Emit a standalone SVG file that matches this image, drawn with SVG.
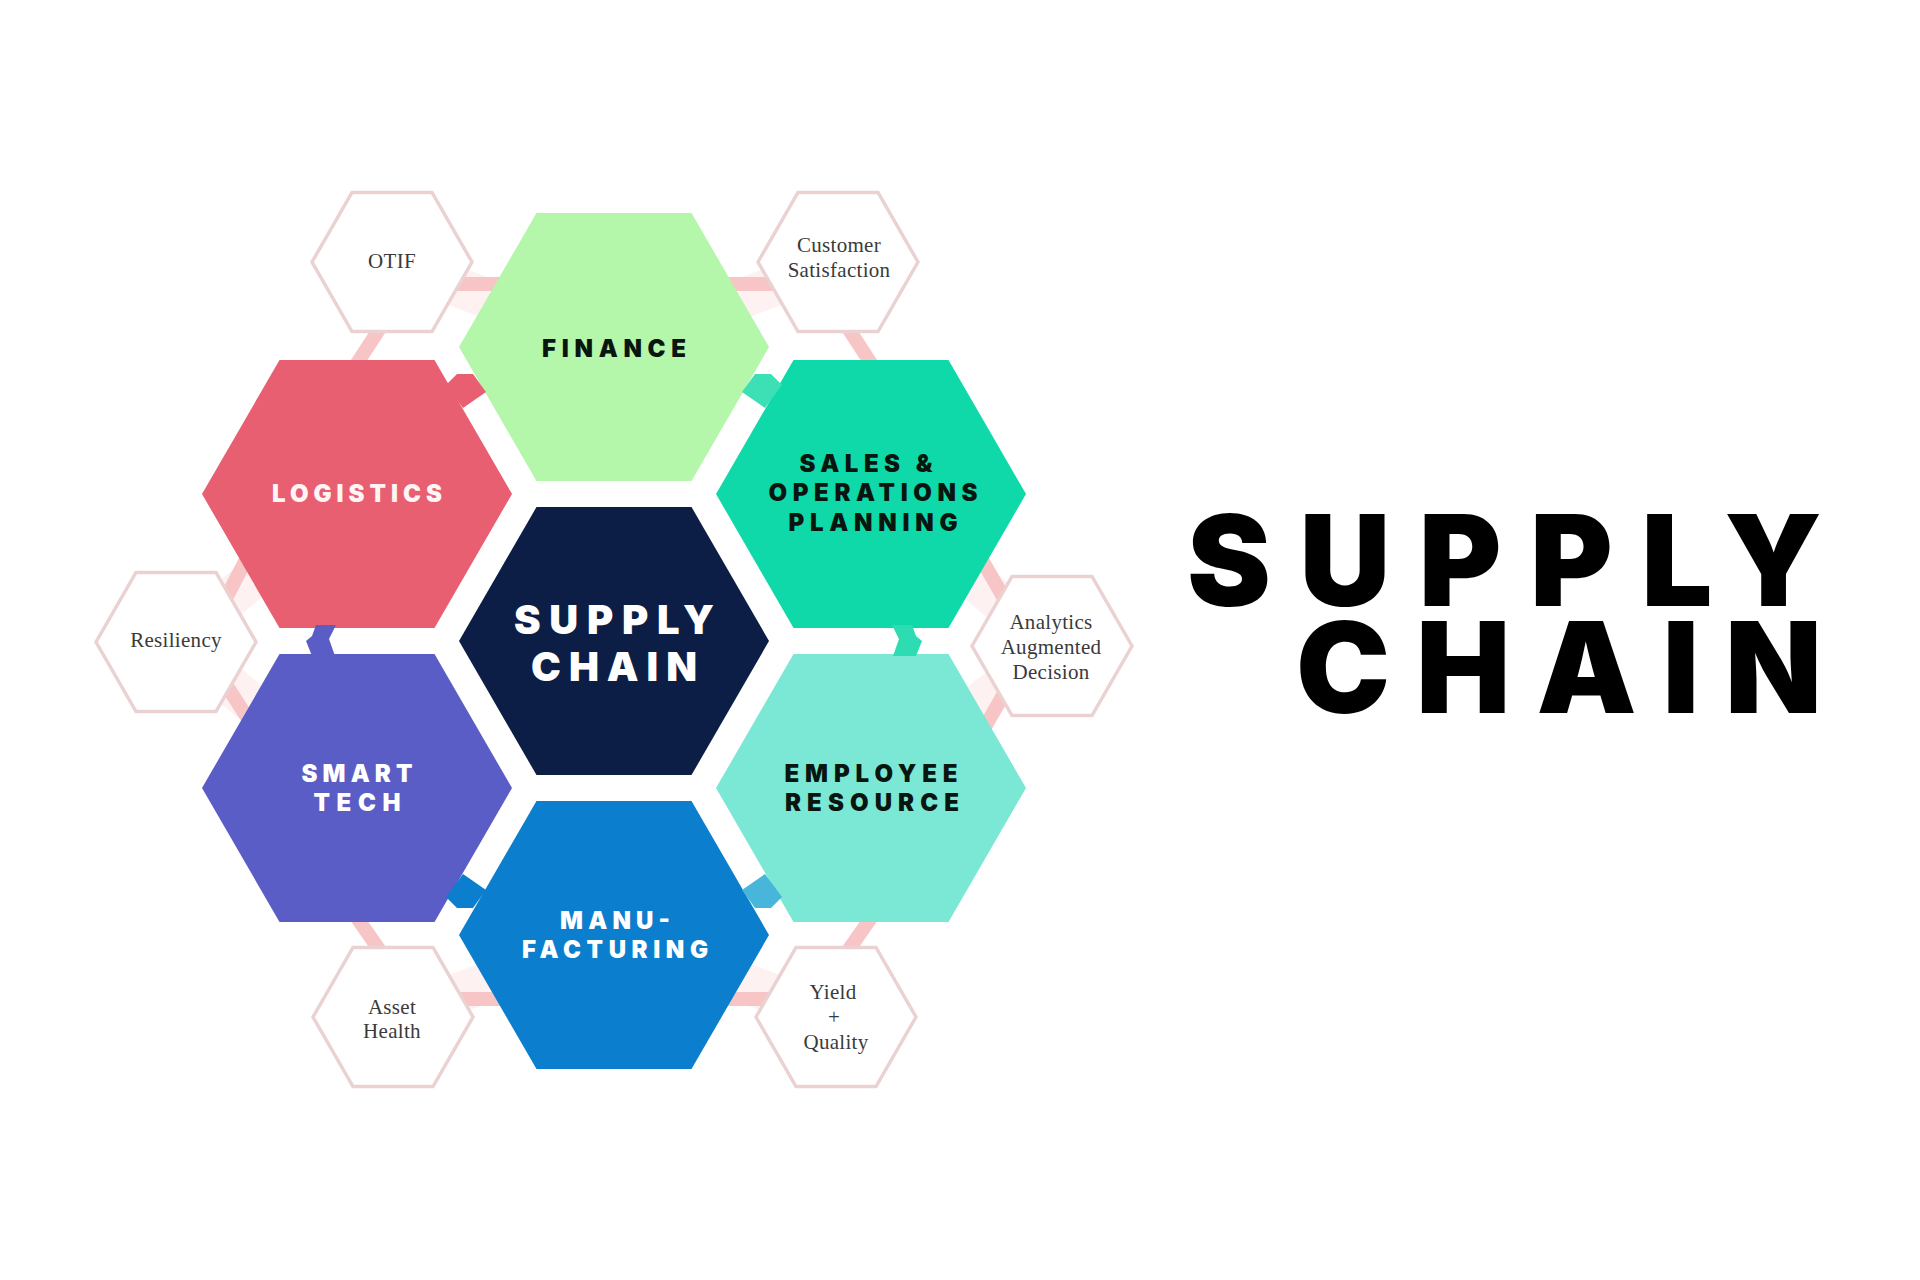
<svg xmlns="http://www.w3.org/2000/svg" xmlns:xlink="http://www.w3.org/1999/xlink" width="1920" height="1280" viewBox="0 0 1920 1280">
<defs>
<path id="bighex" d="M-155,0 L-77.5,-134 L77.5,-134 L155,0 L77.5,134 L-77.5,134 Z"/>
<path id="smallhex" d="M-80,0 L-40,-69.5 L40,-69.5 L80,0 L40,69.5 L-40,69.5 Z"/>
</defs>
<style>
.bar{stroke:#f7c5c5;stroke-width:14;fill:none}
.faint{stroke:#fdf1f1;stroke-width:40;fill:none}
.small{fill:#ffffff;stroke:#ebd2d2;stroke-width:3.5}
.lbl{font-family:Inter,Lato,"Open Sans",sans-serif;font-weight:900;font-size:24px;text-anchor:middle}
.big{font-family:Inter,Lato,"Open Sans",sans-serif;font-weight:900;font-size:40px;text-anchor:middle;fill:#ffffff}
.kpi{font-family:"Liberation Serif","DejaVu Serif",serif;font-size:21px;text-anchor:middle;fill:#3a3a3a;letter-spacing:0.3px}
.title{font-family:Inter,Lato,"Open Sans",sans-serif;font-weight:900;font-size:126px;fill:#000000}
.dark{fill:#08160f}
.light{fill:#ffffff}
</style>
<rect width="1920" height="1280" fill="#ffffff"/>

<g id="connectors">
<line class="faint" x1="392" y1="262" x2="614" y2="347"/>
<line class="faint" x1="838" y1="262" x2="614" y2="347"/>
<line class="faint" x1="176" y1="642" x2="357" y2="494"/>
<line class="faint" x1="176" y1="642" x2="357" y2="788"/>
<line class="faint" x1="1052" y1="646" x2="871" y2="494"/>
<line class="faint" x1="1052" y1="646" x2="871" y2="788"/>
<line class="faint" x1="393" y1="1017" x2="614" y2="935"/>
<line class="faint" x1="836" y1="1017" x2="614" y2="935"/>
<line class="bar" x1="455" y1="284" x2="502" y2="284"/>
<line class="bar" x1="382" y1="325" x2="354" y2="368"/>
<line class="bar" x1="726" y1="284" x2="773" y2="284"/>
<line class="bar" x1="846" y1="325" x2="874" y2="368"/>
<line class="bar" x1="225" y1="600" x2="250" y2="552"/>
<line class="bar" x1="225" y1="683" x2="252" y2="725"/>
<line class="bar" x1="982" y1="560" x2="1005" y2="600"/>
<line class="bar" x1="1005" y1="692" x2="982" y2="732"/>
<line class="bar" x1="355" y1="915" x2="383" y2="955"/>
<line class="bar" x1="455" y1="999" x2="502" y2="999"/>
<line class="bar" x1="873" y1="915" x2="845" y2="955"/>
<line class="bar" x1="726" y1="999" x2="773" y2="999"/>
</g>

<g id="otif"><use href="#smallhex" class="small" x="392" y="262"/><text class="kpi" x="392" y="268">OTIF</text></g>
<g id="customer-satisfaction"><use href="#smallhex" class="small" x="838" y="262"/><text class="kpi" x="839" y="252">Customer</text><text class="kpi" x="839" y="277">Satisfaction</text></g>
<g id="resiliency"><use href="#smallhex" class="small" x="176" y="642"/><text class="kpi" x="176" y="647">Resiliency</text></g>
<g id="analytics"><use href="#smallhex" class="small" x="1052" y="646"/><text class="kpi" x="1051" y="629">Analytics</text><text class="kpi" x="1051" y="654">Augmented</text><text class="kpi" x="1051" y="679">Decision</text></g>
<g id="asset-health"><use href="#smallhex" class="small" x="393" y="1017"/><text class="kpi" x="392" y="1014">Asset</text><text class="kpi" x="392" y="1038">Health</text></g>
<g id="yield-quality"><use href="#smallhex" class="small" x="836" y="1017"/><text class="kpi" x="833" y="999">Yield</text><text class="kpi" x="834" y="1024" font-size="14">+</text><text class="kpi" x="836" y="1049">Quality</text></g>

<g id="finance"><use href="#bighex" x="614" y="347" fill="#b4f6aa"/><text class="lbl dark" x="614" y="357" textLength="144" lengthAdjust="spacing">FINANCE</text></g>
<g id="logistics"><use href="#bighex" x="357" y="494" fill="#e95f72"/><polygon points="446,385 457,374 473,374 486,392 463,408" fill="#e95f72"/><text class="lbl" fill="#fff5f5" x="357" y="502" textLength="170" lengthAdjust="spacing">LOGISTICS</text></g>
<g id="sales-operations-planning"><use href="#bighex" x="871" y="494" fill="#0fd9a8"/><polygon points="782,385 771,374 755,374 742,392 765,408" fill="#3ddfb5"/><text class="lbl dark" x="866" y="472" textLength="133" lengthAdjust="spacing">SALES &amp;</text><text class="lbl dark" x="873" y="501" textLength="209" lengthAdjust="spacing">OPERATIONS</text><text class="lbl dark" x="873" y="531" textLength="169" lengthAdjust="spacing">PLANNING</text></g>
<g id="smart-tech"><use href="#bighex" x="357" y="788" fill="#5b5dc6"/><polygon points="316,625 336,625 329,639 335,656 312,656 306,641 312,636" fill="#5b5dc6"/><text class="lbl light" x="357" y="782" textLength="111" lengthAdjust="spacing">SMART</text><text class="lbl light" x="357" y="811" textLength="87" lengthAdjust="spacing">TECH</text></g>
<g id="employee-resource"><use href="#bighex" x="871" y="788" fill="#7be7d5"/><polygon points="912,625 892,625 899,639 893,656 916,656 922,641 916,636" fill="#2edcb2"/><text class="lbl dark" x="871" y="782" textLength="173" lengthAdjust="spacing">EMPLOYEE</text><text class="lbl dark" x="872" y="811" textLength="174" lengthAdjust="spacing">RESOURCE</text></g>
<g id="manufacturing"><use href="#bighex" x="614" y="935" fill="#0b7ecd"/><polygon points="446,897 457,908 473,908 486,890 463,874" fill="#0b7ecd"/><polygon points="782,897 771,908 755,908 742,890 765,874" fill="#48b6da"/><text class="lbl light" x="615" y="929" textLength="110" lengthAdjust="spacing">MANU-</text><text class="lbl light" x="615" y="958" textLength="186" lengthAdjust="spacing">FACTURING</text></g>
<g id="supply-chain-center"><use href="#bighex" x="614" y="641" fill="#0c1e45"/><text class="big" x="614" y="634" textLength="200" lengthAdjust="spacing">SUPPLY</text><text class="big" x="614" y="681" textLength="166" lengthAdjust="spacing">CHAIN</text></g>

<g id="title">
<text class="title"><tspan x="1187" y="606" textLength="635" lengthAdjust="spacing">SUPPLY</tspan><tspan x="1296" y="713" textLength="526" lengthAdjust="spacing">CHAIN</tspan></text>
</g>
</svg>
